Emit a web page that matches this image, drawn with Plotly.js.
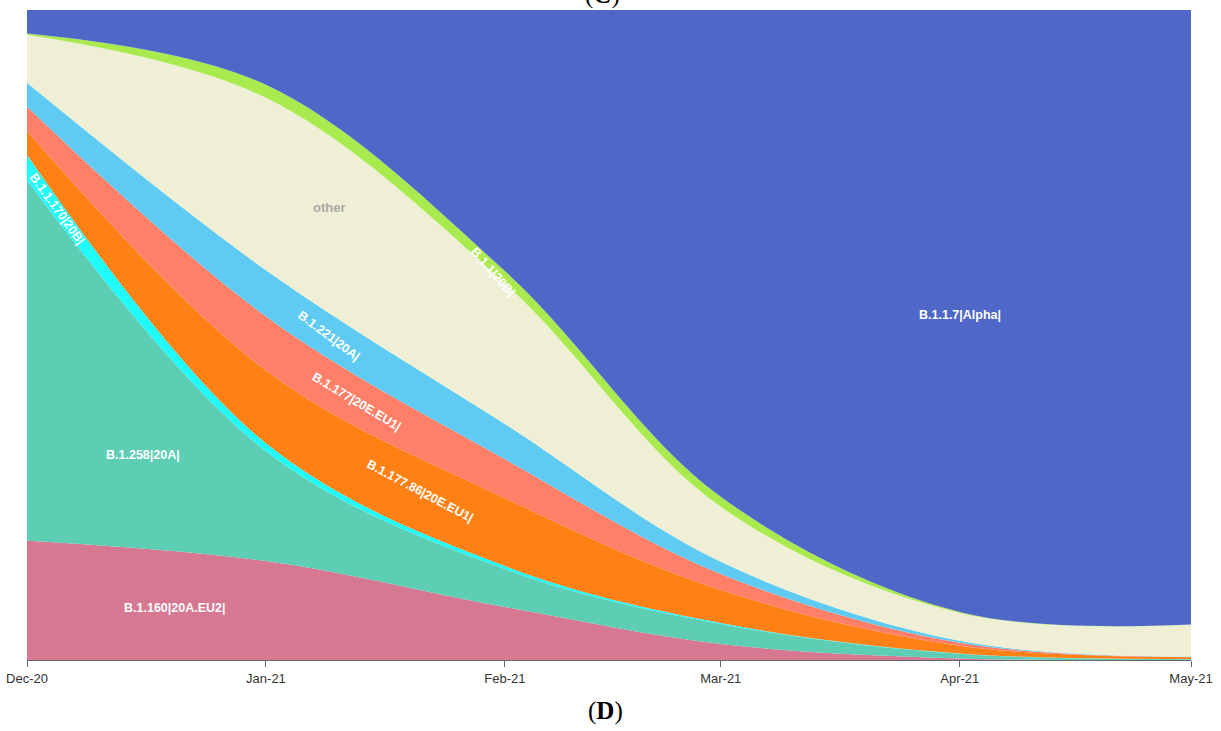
<!DOCTYPE html>
<html>
<head>
<meta charset="utf-8">
<script src="https://cdn.plot.ly/plotly-3.0.1.min.js"></script>
<style>html,body{margin:0;padding:0;background:#fff;}#chart{width:1221px;height:731px;}</style>
</head>
<body>
<div id="chart"></div>
<script>
// Month starts (x positions of the data)
const months = ['2020-12-01', '2021-01-01', '2021-02-01', '2021-03-01', '2021-04-01', '2021-05-01'];

// Lineage shares (%), bottom of the stack first
const lineages = ['B.1.160|20A.EU2|', 'B.1.258|20A|', 'B.1.1.170|20B|', 'B.1.177.86|20E.EU1|',
                  'B.1.177|20E.EU1|', 'B.1.221|20A|', 'other', 'B.1.1|20B|', 'B.1.1.7|Alpha|'];
const b1160   = [18.35, 15.2, 8.15, 2.46, 0.25, 0.05];
const b1258   = [55.5, 16.9, 5.85, 3.08, 0.7, 0.1];
const b11170  = [3.85, 1.2, 0.46, 0.15, 0.05, 0.02];
const b117786 = [3.7, 11.2, 10.46, 5.08, 1.2, 0.25];
const b1177   = [3.7, 8.3, 6.0, 2.46, 0.45, 0.05];
const b1221   = [3.7, 7.1, 5.4, 1.89, 0.3, 0.05];
const other   = [7.4, 26.5, 21.7, 8.46, 4.3, 4.9];
const b111    = [0.2, 2.0, 1.85, 1.54, 0.15, 0.05];
const alpha   = [3.6, 11.5, 40.2, 74.9, 92.6, 94.5];

const seriesValues = [b1160, b1258, b11170, b117786, b1177, b1221, other, b111, alpha];
const colors = ['#D67892', '#5DCEB4', '#20FAFA', '#FF8116', '#FF7F69', '#5FCBF2', '#EFEFD6', '#A9EA4F', '#4F67C7'];

const traces = lineages.map((name, i) => ({
  type: 'scatter',
  mode: 'lines',
  name: name,
  x: months,
  y: seriesValues[i],
  stackgroup: 'one',
  groupnorm: i === 0 ? 'percent' : undefined,
  line: {width: 0, shape: 'spline', smoothing: 1, color: colors[i]},
  fillcolor: colors[i],
  hoverinfo: 'skip'
}));

const lab = (text, x, y, angle, color, size) => ({
  text: text, xref: 'paper', yref: 'paper', x: x, y: y,
  xanchor: 'center', yanchor: 'middle', showarrow: false, textangle: angle,
  font: {family: 'Liberation Sans, Arial, sans-serif', size: size || 12.5, color: color || '#ffffff', weight: 'bold'}
});

const layout = {
  width: 1221, height: 731,
  margin: {l: 27, r: 30, t: 10, b: 71},
  paper_bgcolor: '#ffffff', plot_bgcolor: '#ffffff',
  showlegend: false,
  xaxis: {
    type: 'date',
    range: ['2020-12-01', '2021-05-01'],
    tick0: '2020-12-01', dtick: 'M1', tickformat: '%b-%y',
    showgrid: false, zeroline: false,
    showline: true, linecolor: '#666', linewidth: 1,
    ticks: 'outside', ticklen: 6, tickcolor: '#666',
    tickfont: {family: 'Liberation Sans, Arial, sans-serif', size: 13, color: '#333'}
  },
  yaxis: {range: [0, 100], visible: false, fixedrange: true},
  annotations: [
    lab('B.1.1.7|Alpha|', 0.8015, 0.5308, 0),
    lab('other', 0.2603, 0.6954, 0, '#aaaaaa', 13),
    lab('B.1.1|20B|', 0.4003, 0.5969, 49),
    lab('B.1.221|20A|', 0.2595, 0.4985, 37),
    lab('B.1.177|20E.EU1|', 0.2835, 0.3969, 31),
    lab('B.1.177.86|20E.EU1|', 0.3376, 0.26, 28),
    lab('B.1.258|20A|', 0.0997, 0.3154, 0),
    lab('B.1.160|20A.EU2|', 0.1271, 0.08, 0),
    lab('B.1.1.170|20B|', 0.0258, 0.6938, 54),
    {text: '(<b>D</b>)', xref: 'paper', yref: 'paper', x: 0.4974, y: -0.0785,
     xanchor: 'center', yanchor: 'middle', showarrow: false,
     font: {family: 'Liberation Serif, Times New Roman, serif', size: 25, color: '#000'}},
    {text: '(<b>C</b>)', xref: 'paper', yref: 'paper', x: 0.4948, y: 1.023,
     xanchor: 'center', yanchor: 'middle', showarrow: false,
     font: {family: 'Liberation Serif, Times New Roman, serif', size: 25, color: '#000'}}
  ]
};

Plotly.newPlot('chart', traces, layout, {displayModeBar: false, staticPlot: true});
</script>
</body>
</html>
